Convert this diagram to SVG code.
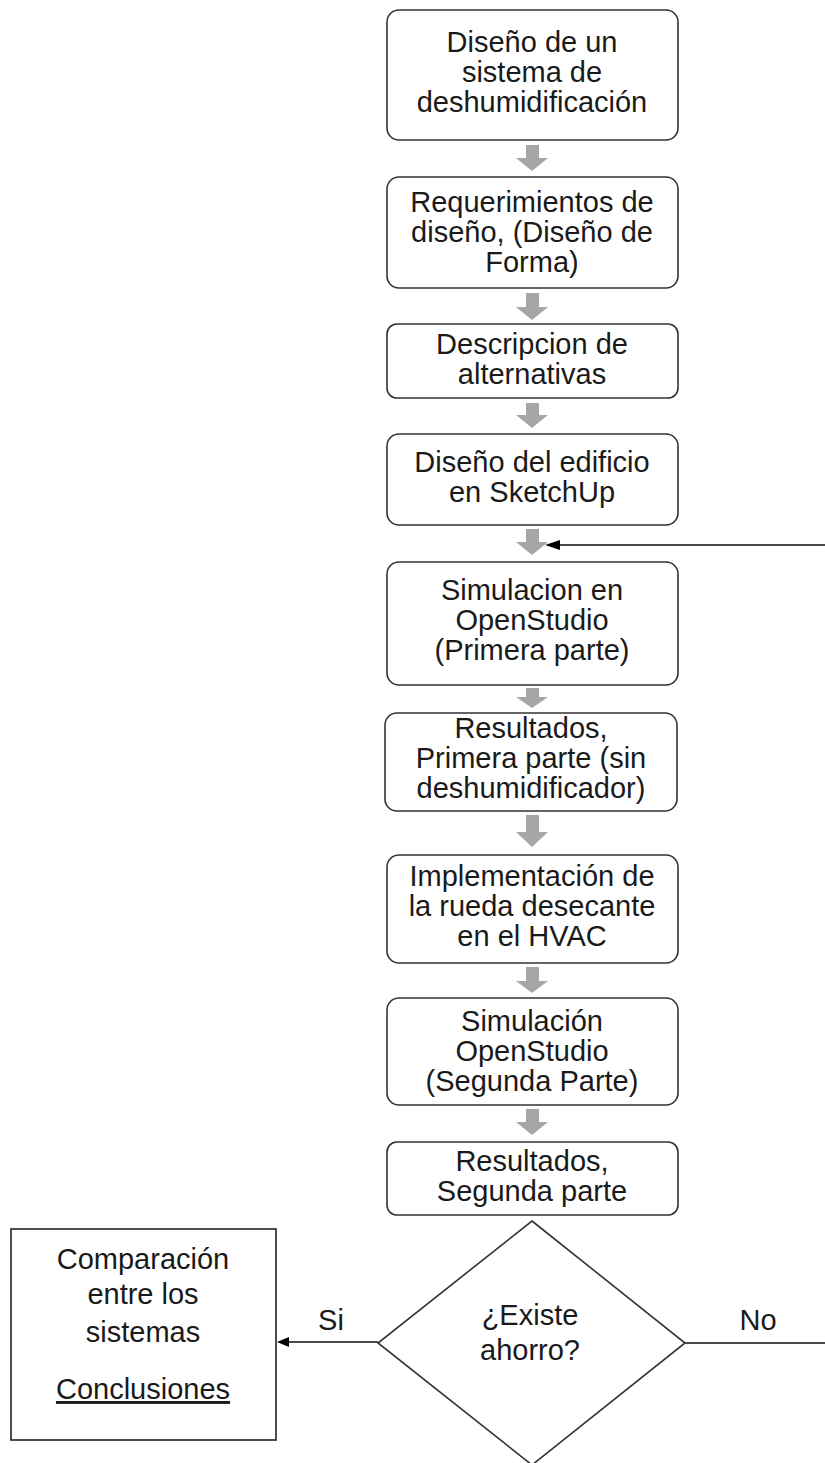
<svg xmlns="http://www.w3.org/2000/svg" width="825" height="1463" viewBox="0 0 825 1463">
<defs>
<style>
.box{fill:#fff;stroke:#333;stroke-width:1.6}
.sq{fill:#fff;stroke:#222;stroke-width:1.6}
.blk{fill:#a6a6a6}
.ln{fill:none;stroke:#111;stroke-width:1.3}
text{font-family:"Liberation Sans",Arial,sans-serif;font-size:29px;fill:#1a1a1a;text-anchor:middle}
</style>
</defs>
<g id="connectors">
<path class="blk" d="M526,145 H539 V158 H548 L532,171 L516,158 H526 Z"/>
<path class="blk" d="M526,293 H539 V307 H548 L532,320 L516,307 H526 Z"/>
<path class="blk" d="M526,403 H539 V415 H548 L532,428 L516,415 H526 Z"/>
<path class="blk" d="M526,529 H539 V542 H548 L532,555 L516,542 H526 Z"/>
<path class="blk" d="M526,688 H539 V697 H548 L532,708 L516,697 H526 Z"/>
<path class="blk" d="M526,815 H539 V832 H548 L532,847 L516,832 H526 Z"/>
<path class="blk" d="M526,967 H539 V981 H548 L532,993 L516,981 H526 Z"/>
<path class="blk" d="M526,1109 H539 V1122 H548 L532,1135 L516,1122 H526 Z"/>
<path class="ln" d="M685,1343 H826 V545 H560"/>
<path d="M545,545 L560,540 L560,550 Z" fill="#000"/>
<path class="ln" d="M378,1342 H288"/>
<path d="M277,1342 L289,1337 L289,1347 Z" fill="#000"/>
<line class="ln" x1="533" y1="1360" x2="533" y2="1394"/>
<text x="331" y="1330">Si</text>
<text x="758" y="1330">No</text>
</g>
<g id="n1"><rect class="box" x="387" y="10" width="291" height="130" rx="12"/>
<text x="532" y="52">Diseño de un</text><text x="532" y="82">sistema de</text><text x="532" y="112">deshumidificación</text></g>
<g id="n2"><rect class="box" x="387" y="177" width="291" height="111" rx="12"/>
<text x="532" y="212">Requerimientos de</text><text x="532" y="242">diseño, (Diseño de</text><text x="532" y="272">Forma)</text></g>
<g id="n3"><rect class="box" x="387" y="324" width="291" height="74" rx="10"/>
<text x="532" y="354">Descripcion de</text><text x="532" y="384">alternativas</text></g>
<g id="n4"><rect class="box" x="387" y="434" width="291" height="91" rx="12"/>
<text x="532" y="472">Diseño del edificio</text><text x="532" y="502">en SketchUp</text></g>
<g id="n5"><rect class="box" x="387" y="562" width="291" height="123" rx="12"/>
<text x="532" y="600">Simulacion en</text><text x="532" y="630">OpenStudio</text><text x="532" y="660">(Primera parte)</text></g>
<g id="n6"><rect class="box" x="385" y="713" width="292" height="98" rx="12"/>
<text x="531" y="738">Resultados,</text><text x="531" y="768">Primera parte (sin</text><text x="531" y="798">deshumidificador)</text></g>
<g id="n7"><rect class="box" x="387" y="855" width="291" height="108" rx="12"/>
<text x="532" y="886">Implementación de</text><text x="532" y="916">la rueda desecante</text><text x="532" y="946">en el HVAC</text></g>
<g id="n8"><rect class="box" x="387" y="998" width="291" height="107" rx="12"/>
<text x="532" y="1031">Simulación</text><text x="532" y="1061">OpenStudio</text><text x="532" y="1091">(Segunda Parte)</text></g>
<g id="n9"><rect class="box" x="387" y="1142" width="291" height="73" rx="10"/>
<text x="532" y="1171">Resultados,</text><text x="532" y="1201">Segunda parte</text></g>
<g id="n10"><polygon class="box" points="532,1221 685,1343 532,1465 378,1343"/>
<text x="530" y="1325">¿Existe</text><text x="530" y="1360">ahorro?</text></g>
<g id="n11"><rect class="sq" x="11" y="1229" width="265" height="211"/>
<text x="143" y="1269">Comparación</text><text x="143" y="1304">entre los</text><text x="143" y="1342">sistemas</text>
<text x="143" y="1399" text-decoration="underline">Conclusiones</text></g>
</svg>
